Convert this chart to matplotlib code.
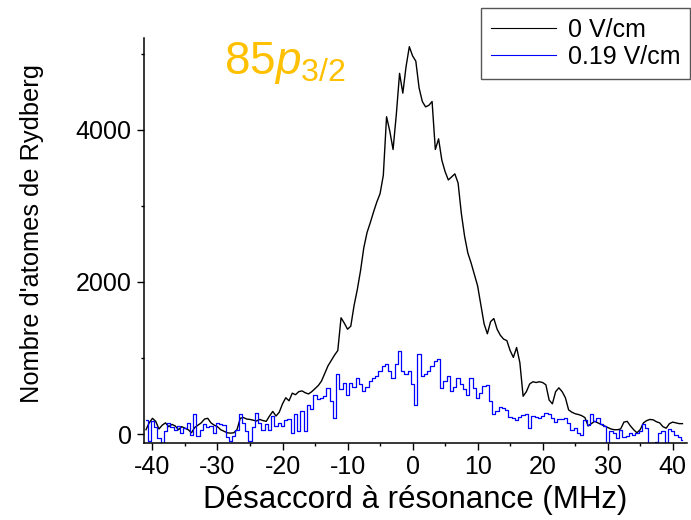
import numpy as np
import matplotlib
matplotlib.use('Agg')
import matplotlib.pyplot as plt

plt.rcParams['font.family'] = ['Liberation Sans', 'DejaVu Sans']
plt.rcParams['mathtext.fontset'] = 'custom'
plt.rcParams['mathtext.rm'] = 'Liberation Sans'
plt.rcParams['mathtext.it'] = 'Liberation Sans:italic'
plt.rcParams['axes.unicode_minus'] = False

# detuning grid (MHz), -41 .. 41.5 every 0.5 MHz
detuning = np.arange(-41.0, 41.75, 0.5)

# Rydberg atom counts, 0 V/cm
counts_0 = [
    60, 150, 210, 170, 70, 120, 150, 100, 130, 110,            # -41.0
    60, 100, 80, 60, 20, 90, 120, 150, 200, 210,               # -36.0
    150, 120, 100, 60, 40, 20, 15, 20, 60, 210,                # -31.0
    220, 200, 195, 185, 175, 195, 180, 170, 240, 300,          # -26.0
    240, 290, 400, 480, 440, 540, 520, 560, 570, 545,          # -21.0
    530, 560, 600, 640, 700, 800, 900, 970, 1040, 1100,        # -16.0
    1530, 1460, 1380, 1420, 1690, 1900, 2150, 2450, 2650, 2780,  # -11.0
    2920, 3050, 3160, 3400, 4170, 3980, 3740, 4200, 4740, 4480,  # -6.0
    4830, 5090, 4970, 4900, 4550, 4370, 4300, 4320, 4370, 3740,  # -1.0
    3880, 3600, 3450, 3340, 3380, 3420, 3300, 2900, 2600, 2380,  # 4.0
    2250, 2100, 1950, 1700, 1450, 1320, 1480, 1520, 1380, 1300,  # 9.0
    1250, 1230, 1100, 1010, 1140, 940, 500, 560, 660, 690,     # 14.0
    680, 690, 680, 650, 450, 400, 560, 610, 560, 480,          # 19.0
    320, 290, 270, 260, 245, 220, 110, 140, 170, 150,          # 24.0
    130, 110, 90, 70, 60, 60, 70, 160, 170, 110,               # 29.0
    60, 20, 60, 150, 180, 195, 190, 165, 150, 100,             # 34.0
    80, 140, 160, 150, 140, 140,                               # 39.0
]

# Rydberg atom counts, 0.19 V/cm
counts_019 = [
    190, -90, 170, 100, -50, -110, 40, 150, 100, 60,           # -41.0
    110, 20, 80, 150, -5, 260, -25, 60, 130, 100,              # -36.0
    110, 20, 150, 130, 120, -30, -90, -25, 60, 260,            # -31.0
    150, 40, -90, 100, 280, 150, 60, 130, 60, 240,             # -26.0
    110, 150, 110, 190, 200, 20, 260, 40, 300, 40,             # -21.0
    390, 330, 520, 460, 480, 500, 610, 440, 220, 790,          # -16.0
    590, 680, 520, 680, 620, 740, 660, 570, 620, 700,          # -11.0
    740, 760, 830, 900, 920, 830, 740, 920, 1100, 830,         # -6.0
    790, 830, 660, 390, 1050, 770, 790, 830, 900, 960,         # -1.0
    990, 610, 700, 770, 570, 620, 740, 660, 600, 520,          # 4.0
    740, 610, 480, 540, 630, 650, 440, 260, 300, 360,          # 9.0
    340, 320, 230, 210, 190, 230, 250, 260, 80, 240,           # 14.0
    230, 215, 240, 280, 260, 210, 160, 200, 195, 210,          # 19.0
    150, 60, 80, 20, -5, 190, 120, 260, 170, 215,              # 24.0
    130, 110, -115, 40, 17, -50, 60, -30, -20, 15,             # 29.0
    -5, 20, 40, 130, 80, -115, -115, -100, 15, 40,             # 34.0
    -115, 70, 40, -10, -30, -70,                               # 39.0
]

labels = ['0 V/cm', '0.19 V/cm']
x_ticks = [-40, -30, -20, -10, 0, 10, 20, 30, 40]
y_ticks = [0, 2000, 4000]

fig = plt.figure(figsize=(6.91, 5.2), dpi=100)
ax = fig.add_axes([0.2084, 0.149, 0.7858, 0.7773])

ax.plot(detuning, counts_0, color='black', lw=1.0, label=labels[0])
ax.plot(detuning, counts_019, color='#0000ff', lw=0.9,
        drawstyle='steps-mid', label=labels[1])

ax.set_xlim(-41.3, 42.2)
ax.set_ylim(-108, 5200)
ax.set_xticks(x_ticks)
ax.set_xticks([-35, -25, -15, -5, 5, 15, 25, 35], minor=True)
ax.set_yticks(y_ticks)
ax.set_yticks([1000, 3000, 5000], minor=True)

for side in ['top', 'right']:
    ax.spines[side].set_visible(False)
for side in ['left', 'bottom']:
    ax.spines[side].set_linewidth(1.1)

ax.tick_params(which='major', direction='out', length=5, width=1.0,
               labelsize=18, pad=4)
ax.tick_params(which='minor', direction='out', length=2.5, width=1.0)

ax.set_xlabel('Désaccord à résonance (MHz)', fontsize=22.5, labelpad=4)
ax.set_ylabel("Nombre d'atomes de Rydberg", fontsize=18.3)
ax.yaxis.set_label_coords(-0.185, 0.518)

ax.text(0.147, 0.912, '85$p_{3/2}$', transform=ax.transAxes,
        fontsize=33, color='#FFC000', va='baseline', ha='left')

leg = ax.legend(loc='upper right', bbox_to_anchor=(0.9986, 0.9846),
                bbox_transform=fig.transFigure, borderaxespad=0,
                fontsize=18, handlelength=2.6, handletextpad=0.45,
                borderpad=0.4, labelspacing=0.1, fancybox=False,
                framealpha=1)
leg.get_frame().set_edgecolor('#555555')
leg.get_frame().set_linewidth(1.0)
for line in leg.get_lines():
    line.set_linewidth(0.8)

fig.savefig('out.png', dpi=100)
